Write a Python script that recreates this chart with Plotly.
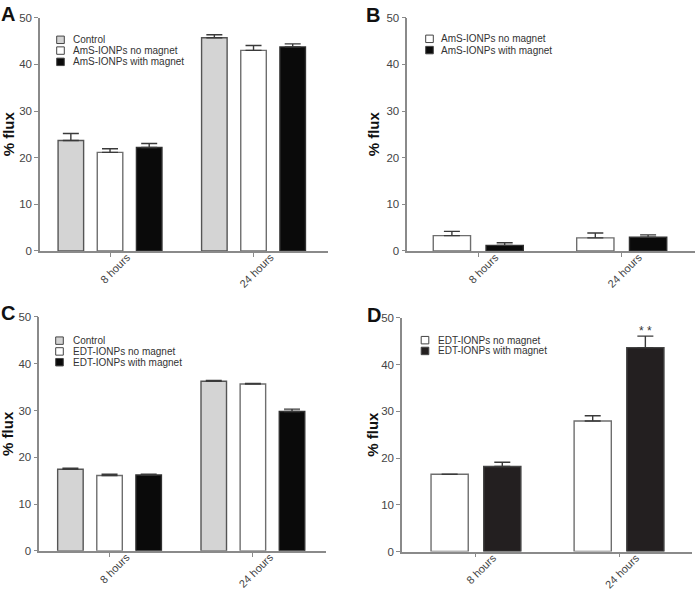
import plotly.graph_objects as go

W, H = 697, 598

categories = ["8 hours", "24 hours"]
yticks = [0, 10, 20, 30, 40, 50]

# Panel A (AmS-IONPs, with control)
a_names = ["Control", "AmS-IONPs no magnet", "AmS-IONPs with magnet"]
a_control = [23.7, 45.7]
a_control_err = [1.5, 0.65]
a_nomag = [21.15, 43.0]
a_nomag_err = [0.77, 1.05]
a_mag = [22.2, 43.75]
a_mag_err = [0.84, 0.65]

# Panel B (AmS-IONPs, no control)
b_names = ["AmS-IONPs no magnet", "AmS-IONPs with magnet"]
b_nomag = [3.3, 2.8]
b_nomag_err = [0.9, 1.05]
b_mag = [1.2, 2.95]
b_mag_err = [0.55, 0.5]

# Panel C (EDT-IONPs, with control)
c_names = ["Control", "EDT-IONPs no magnet", "EDT-IONPs with magnet"]
c_control = [17.45, 36.25]
c_control_err = [0.2, 0.15]
c_nomag = [16.1, 35.65]
c_nomag_err = [0.3, 0.15]
c_mag = [16.2, 29.8]
c_mag_err = [0.2, 0.5]

# Panel D (EDT-IONPs, no control)
d_names = ["EDT-IONPs no magnet", "EDT-IONPs with magnet"]
d_nomag = [16.55, 27.95]
d_nomag_err = [0.0, 1.1]
d_mag = [18.2, 43.65]
d_mag_err = [0.9, 2.45]
d_sig_label = "* *"
d_sig_value = 47.1

FONT = "Liberation Sans, Arial, sans-serif"
GREY_FILL = "#d4d4d4"
AXIS_COL = "#8a8a8a"


def px(xp):
    return xp / W


def py(yp):
    return 1 - yp / H


# panel geometry in pixels: (x0, x1, ytop, ybottom), category range
panels = {
    "A": dict(x=(40, 328), y=(12, 250), rng=(-0.488, 1.519)),
    "B": dict(x=(407.3, 695), y=(12, 250), rng=(-0.495, 1.511)),
    "C": dict(x=(39.3, 326), y=(317.3, 556), rng=(-0.49, 1.51)),
    "D": dict(x=(402, 692), y=(318.3, 556.7), rng=(-0.517, 1.51)),
}
axis_ids = {"A": "", "B": "2", "C": "3", "D": "4"}

fig = go.Figure()


def add_bar(panel, name, vals, errs, fill, line_col, offset_c, width):
    ax = axis_ids[panel]
    fig.add_trace(go.Bar(
        x=categories, y=vals, name=name,
        xaxis="x" + ax, yaxis="y" + ax,
        offset=offset_c - width / 2, width=width,
        marker=dict(color=fill, line=dict(color=line_col, width=1.4)),
        error_y=dict(type="data", array=errs, arrayminus=[0] * len(errs),
                     symmetric=False, color="#3a3a3a", thickness=1.4, width=8),
        showlegend=False,
    ))


w3, o3 = 0.178, 0.273
w2, o2 = 0.26, 0.184

add_bar("A", a_names[0], a_control, a_control_err, GREY_FILL, "#555555", -o3, w3)
add_bar("A", a_names[1], a_nomag, a_nomag_err, "#ffffff", "#6e6e6e", 0, w3)
add_bar("A", a_names[2], a_mag, a_mag_err, "#0a0a0a", "#303030", o3, w3)

add_bar("B", b_names[0], b_nomag, b_nomag_err, "#ffffff", "#6e6e6e", -o2, w2)
add_bar("B", b_names[1], b_mag, b_mag_err, "#0a0a0a", "#303030", o2, w2)

add_bar("C", c_names[0], c_control, c_control_err, GREY_FILL, "#555555", -o3, w3)
add_bar("C", c_names[1], c_nomag, c_nomag_err, "#ffffff", "#6e6e6e", 0, w3)
add_bar("C", c_names[2], c_mag, c_mag_err, "#0a0a0a", "#303030", o3, w3)

add_bar("D", d_names[0], d_nomag, d_nomag_err, "#ffffff", "#6e6e6e", -o2, w2)
add_bar("D", d_names[1], d_mag, d_mag_err, "#231f20", "#444444", o2, w2)

layout = dict(
    width=W, height=H,
    margin=dict(l=0, r=0, t=0, b=0),
    paper_bgcolor="white", plot_bgcolor="white",
    barmode="group",
    font=dict(family=FONT, color="#333333"),
    showlegend=False,
)

for p, g in panels.items():
    ax = axis_ids[p]
    layout["xaxis" + ax] = dict(
        type="category", domain=[px(g["x"][0]), px(g["x"][1])],
        range=list(g["rng"]), anchor="y" + ax,
        showline=True, linecolor=AXIS_COL, linewidth=1.5,
        ticks="outside", ticklen=4, tickcolor=AXIS_COL, tickwidth=1.2,
        tickangle=-45, tickfont=dict(size=11, color="#444444", family=FONT),
        ticklabelstandoff=-10, ticklabelshift=17,
        showgrid=False, zeroline=False, fixedrange=True,
    )
    layout["yaxis" + ax] = dict(
        domain=[py(g["y"][1]), py(g["y"][0])], range=[0, 50],
        anchor="x" + ax, tickvals=yticks,
        showline=True, linecolor=AXIS_COL, linewidth=1.5,
        ticks="outside", ticklen=4, tickcolor=AXIS_COL, tickwidth=1.2,
        tickfont=dict(size=11.5, color="#444444", family=FONT),
        showgrid=False, zeroline=False, fixedrange=True,
    )

fig.update_layout(**layout)

annotations = []
shapes = []

# y-axis titles
for p, xc in [("A", 8), ("B", 373), ("C", 8), ("D", 373)]:
    g = panels[p]
    yc = (g["y"][0] + g["y"][1]) / 2
    annotations.append(dict(
        x=px(xc), y=py(yc), xref="paper", yref="paper", text="<b>% flux</b>",
        textangle=-90, showarrow=False, xanchor="center", yanchor="middle",
        font=dict(size=15, color="#111111", family=FONT)))

# panel letters
for letter, xc, yc in [("A", 7.5, 8.5), ("B", 373, 9), ("C", 7.5, 313), ("D", 373.5, 315)]:
    annotations.append(dict(
        x=px(xc), y=py(yc), xref="paper", yref="paper", text="<b>%s</b>" % letter,
        showarrow=False, xanchor="center", yanchor="middle",
        font=dict(size=20, color="#111111", family=FONT)))


# manual legends
def legend(names, fills, sq_x, text_x, y_centers):
    for n, f, yc in zip(names, fills, y_centers):
        s = 3.8
        shapes.append(dict(type="rect", xref="paper", yref="paper",
                           x0=px(sq_x - s), x1=px(sq_x + s),
                           y0=py(yc + s), y1=py(yc - s),
                           fillcolor=f, line=dict(color="#444444", width=1)))
        annotations.append(dict(
            x=px(text_x), y=py(yc), xref="paper", yref="paper", text=n,
            showarrow=False, xanchor="left", yanchor="middle",
            font=dict(size=10, color="#333333", family=FONT)))


legend(a_names, [GREY_FILL, "#ffffff", "#0a0a0a"], 60.5, 70.5, [34.5, 45.5, 57])
legend(b_names, ["#ffffff", "#0a0a0a"], 429.5, 438.5, [33.5, 45])
legend(c_names, [GREY_FILL, "#ffffff", "#0a0a0a"], 59.5, 70.5, [341.5, 352.5, 363.5])
legend(d_names, ["#ffffff", "#231f20"], 425, 436, [341, 352])

# significance marker in D above the magnet bar at 24 hours
annotations.append(dict(
    x=1 + o2, y=d_sig_value, xref="x4", yref="y4", text=d_sig_label,
    showarrow=False, xanchor="center", yanchor="middle",
    font=dict(size=12, color="#333333", family=FONT)))

fig.update_layout(annotations=annotations, shapes=shapes)

fig.write_html(
    "out.html",
    config={"displayModeBar": False},
    post_script="document.body.style.margin='0';document.body.style.overflow='hidden';",
)
